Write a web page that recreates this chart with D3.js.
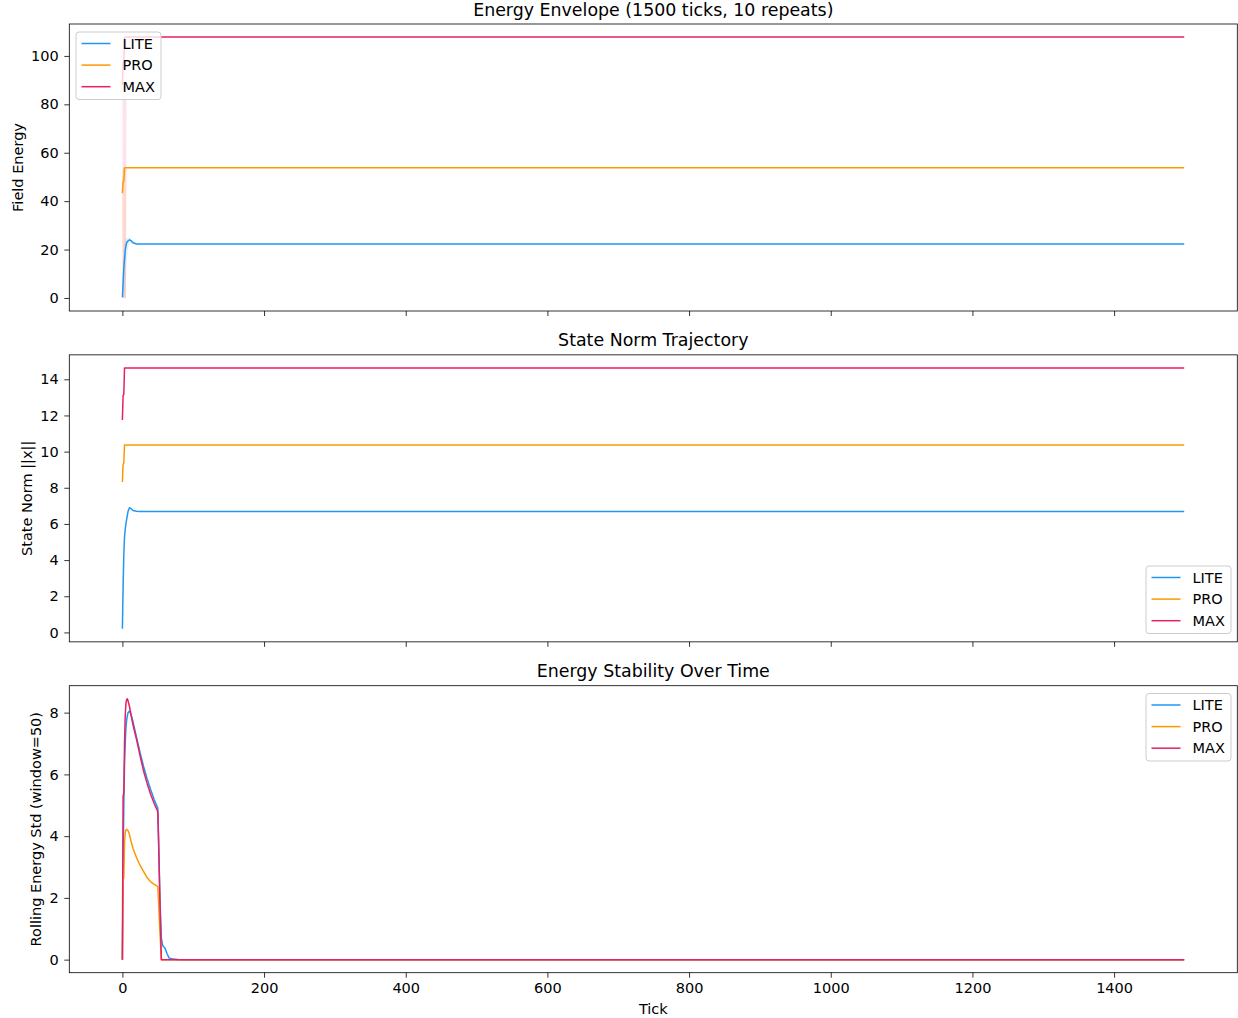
<!DOCTYPE html>
<html>
<head>
<meta charset="utf-8">
<script src="https://cdn.jsdelivr.net/npm/d3@7"></script>
<style>
  html, body { margin: 0; padding: 0; background: #fff; }
  svg { display: block; font-family: "DejaVu Sans", sans-serif; }
</style>
</head>
<body>
<svg id="chart" width="1238" height="1018"></svg>
<script>
// ---------------- DATA ----------------
const seriesNames = ["LITE", "PRO", "MAX"];
const xTickValues = [0, 200, 400, 600, 800, 1000, 1200, 1400];
const totalTicks = 1500;

// Panel 1: Field energy (mean) with min/max envelope
const ticksEnergy = [0, 1, 2, 3, 4, 5, 6, 8, 10, 12, 15, 20, 25, 1499];
const energyLite   = [0.3, 6, 12.5, 16, 19.5, 21.5, 22.8, 23.6, 24.0, 23.7, 22.8, 22.3, 22.3, 22.3];
const energyPro    = [43.3, 48.2, 48.3, 53.6, 53.8, 53.8, 53.8, 53.8, 53.8, 53.8, 53.8, 53.8, 53.8, 53.8];
const energyMax    = [88, 97, 97.5, 107.5, 107.8, 107.8, 107.8, 107.8, 107.8, 107.8, 107.8, 107.8, 107.8, 107.8];
const energyLiteLo = [0, 0, 0, 0, 0, 6, 15, 20.5, 22.5, 22.8, 22.3, 22.2, 22.2, 22.2];
const energyLiteHi = [1.5, 16, 21, 23, 24, 24.6, 24.9, 25, 25, 24.6, 23.4, 22.5, 22.3, 22.3];
const energyProLo  = [0, 0, 0, 0, 0, 0, 53.8, 53.8, 53.8, 53.8, 53.8, 53.8, 53.8, 53.8];
const energyProHi  = [54, 54, 54, 54, 54, 54, 53.8, 53.8, 53.8, 53.8, 53.8, 53.8, 53.8, 53.8];
const energyMaxLo  = [0, 0, 0, 0, 0, 0, 107.8, 107.8, 107.8, 107.8, 107.8, 107.8, 107.8, 107.8];
const energyMaxHi  = [107.8, 107.8, 107.8, 107.8, 107.8, 107.8, 107.8, 107.8, 107.8, 107.8, 107.8, 107.8, 107.8, 107.8];
const energyYTicks = [0, 20, 40, 60, 80, 100];

// Panel 2: state norm
const ticksNorm = [0, 1, 2, 3, 4, 5, 6, 8, 10, 12, 15, 20, 25, 1499];
const normLite = [0.2, 2.5, 4.3, 5.3, 5.7, 6.0, 6.25, 6.7, 6.9, 6.85, 6.74, 6.7, 6.69, 6.69];
const normPro  = [8.32, 9.3, 9.35, 10.37, 10.37, 10.37, 10.37, 10.37, 10.37, 10.37, 10.37, 10.37, 10.37, 10.37];
const normMax  = [11.75, 13.1, 13.17, 14.63, 14.63, 14.63, 14.63, 14.63, 14.63, 14.63, 14.63, 14.63, 14.63, 14.63];
const normYTicks = [0, 2, 4, 6, 8, 10, 12, 14];

// Panel 3: rolling energy std (window=50)
const ticksStd = [0, 1, 2, 3, 4, 5, 6, 7, 8, 10, 12, 15, 20, 25, 30, 35, 40, 45, 50, 51, 52, 53, 55, 57, 60, 63, 66, 70, 80, 1499];
const stdLite = [0, 3.0, 5.0, 6.3, 7.0, 7.5, 7.75, 7.9, 8.0, 8.05, 7.95, 7.7, 7.2, 6.7, 6.25, 5.85, 5.5, 5.18, 4.9, 4.0, 3.0, 2.0, 0.7, 0.45, 0.38, 0.2, 0.05, 0.03, 0, 0];
const stdPro  = [0, 2.6, 2.65, 3.8, 4.1, 4.2, 4.22, 4.2, 4.18, 4.05, 3.85, 3.6, 3.3, 3.05, 2.85, 2.65, 2.52, 2.44, 2.37, 1.9, 1.4, 0.9, 0, 0, 0, 0, 0, 0, 0, 0];
const stdMax  = [0, 5.3, 5.4, 7.0, 7.9, 8.3, 8.42, 8.45, 8.38, 8.2, 7.95, 7.6, 7.13, 6.6, 6.1, 5.7, 5.35, 5.05, 4.8, 3.9, 2.9, 1.9, 0, 0, 0, 0, 0, 0, 0, 0];
const stdYTicks = [0, 2, 4, 6, 8];

const colors = { LITE: "#2196F3", PRO: "#FF9800", MAX: "#E91E63" };

// ---------------- LAYOUT ----------------
const svg = d3.select("#chart");
const axLeft = 69.3, axRight = 1237.3, axH = 287;
const panelTops = [24, 354.85, 685.7];
const FS = 14.5, TITLE_FS = 17.4, TICK_LEN = 5, TICK_PAD = 5.5;

const xPad = (totalTicks - 1) * 0.05;
const x = d3.scaleLinear().domain([-xPad, totalTicks - 1 + xPad]).range([axLeft, axRight]);

function zip(ts, vs) { return ts.map((t, i) => ({ t, v: vs[i] })); }

function drawPanel(cfg) {
  const top = cfg.top, bottom = top + axH;
  const allVals = cfg.extentVals.flat();
  const lo = d3.min(allVals), hi = d3.max(allVals);
  const pad = (hi - lo) * 0.05;
  const y = d3.scaleLinear().domain([lo - pad, hi + pad]).range([bottom, top]);
  const g = svg.append("g");

  const clipId = "clip" + cfg.idx;
  svg.append("clipPath").attr("id", clipId).append("rect")
    .attr("x", axLeft).attr("y", top).attr("width", axRight - axLeft).attr("height", axH);
  const plot = g.append("g").attr("clip-path", `url(#${clipId})`);

  // bands
  (cfg.bands || []).forEach(b => {
    const area = d3.area().x(d => x(d.t)).y0(d => y(d.lo)).y1(d => y(d.hi));
    const data = b.ticks.map((t, i) => ({ t, lo: b.lo[i], hi: b.hi[i] }));
    plot.append("path").attr("d", area(data))
      .attr("fill", colors[b.name]).attr("fill-opacity", 0.12).attr("stroke", "none");
  });

  const line = d3.line().x(d => x(d.t)).y(d => y(d.v));
  cfg.series.forEach(s => {
    plot.append("path").attr("d", line(zip(s.ticks, s.values)))
      .attr("fill", "none").attr("stroke", colors[s.name])
      .attr("stroke-width", 1.5).attr("stroke-linejoin", "round");
  });

  // axes
  const yAxis = d3.axisLeft(y).tickValues(cfg.yTicks).tickSize(TICK_LEN).tickPadding(TICK_PAD).tickFormat(d3.format("d"));
  const ya = g.append("g").attr("transform", `translate(${axLeft},0)`).call(yAxis);
  const xAxis = d3.axisBottom(x).tickValues(xTickValues).tickSize(TICK_LEN).tickPadding(TICK_PAD)
    .tickFormat(cfg.showX ? d3.format("d") : () => "");
  const xa = g.append("g").attr("transform", `translate(0,${bottom})`).call(xAxis);
  [ya, xa].forEach(a => {
    a.select(".domain").remove();
    a.selectAll(".tick line").attr("stroke", "#000").attr("stroke-width", 0.8);
    a.selectAll(".tick text").attr("fill", "#000").style("font-size", FS + "px")
      .style("font-family", "DejaVu Sans, sans-serif");
  });

  // frame
  g.append("rect").attr("x", axLeft).attr("y", top).attr("width", axRight - axLeft).attr("height", axH)
    .attr("fill", "none").attr("stroke", "#000").attr("stroke-width", 0.8);

  // title
  g.append("text").attr("x", (axLeft + axRight) / 2).attr("y", top - 8.5)
    .attr("text-anchor", "middle").style("font-size", TITLE_FS + "px").text(cfg.title);

  // y label
  g.append("text")
    .attr("transform", `translate(${cfg.ylabelX},${(top + bottom) / 2}) rotate(-90)`)
    .attr("text-anchor", "middle").attr("dy", "0.35em")
    .style("font-size", FS + "px").text(cfg.ylabel);

  // legend
  const L = cfg.legend;
  const lg = g.append("g").attr("transform", `translate(${L.x},${L.y})`);
  lg.append("rect").attr("width", 85).attr("height", 67.5).attr("rx", 3)
    .attr("fill", "#fff").attr("fill-opacity", 0.8).attr("stroke", "#cccccc").attr("stroke-width", 1);
  seriesNames.forEach((n, i) => {
    const cy = 11.5 + i * 21.6;
    lg.append("line").attr("x1", 5.5).attr("x2", 34.5).attr("y1", cy).attr("y2", cy)
      .attr("stroke", colors[n]).attr("stroke-width", 1.5);
    lg.append("text").attr("x", 46.5).attr("y", cy).attr("dy", "0.36em")
      .style("font-size", FS + "px").text(n);
  });
  return y;
}

drawPanel({
  idx: 1, top: panelTops[0], title: "Energy Envelope (1500 ticks, 10 repeats)",
  ylabel: "Field Energy", ylabelX: 18, yTicks: energyYTicks, showX: false,
  extentVals: [energyLite, energyPro, energyMax, energyLiteLo, energyLiteHi, energyProLo, energyProHi, energyMaxLo, energyMaxHi],
  bands: [
    { name: "LITE", ticks: ticksEnergy, lo: energyLiteLo, hi: energyLiteHi },
    { name: "PRO", ticks: ticksEnergy, lo: energyProLo, hi: energyProHi },
    { name: "MAX", ticks: ticksEnergy, lo: energyMaxLo, hi: energyMaxHi }
  ],
  series: [
    { name: "LITE", ticks: ticksEnergy, values: energyLite },
    { name: "PRO", ticks: ticksEnergy, values: energyPro },
    { name: "MAX", ticks: ticksEnergy, values: energyMax }
  ],
  legend: { x: 76, y: 32 }
});

drawPanel({
  idx: 2, top: panelTops[1], title: "State Norm Trajectory",
  ylabel: "State Norm ||x||", ylabelX: 27, yTicks: normYTicks, showX: false,
  extentVals: [normLite, normPro, normMax],
  series: [
    { name: "LITE", ticks: ticksNorm, values: normLite },
    { name: "PRO", ticks: ticksNorm, values: normPro },
    { name: "MAX", ticks: ticksNorm, values: normMax }
  ],
  legend: { x: 1146, y: 566 }
});

drawPanel({
  idx: 3, top: panelTops[2], title: "Energy Stability Over Time",
  ylabel: "Rolling Energy Std (window=50)", ylabelX: 36, yTicks: stdYTicks, showX: true,
  extentVals: [stdLite, stdPro, stdMax],
  series: [
    { name: "LITE", ticks: ticksStd, values: stdLite },
    { name: "PRO", ticks: ticksStd, values: stdPro },
    { name: "MAX", ticks: ticksStd, values: stdMax }
  ],
  legend: { x: 1146, y: 693.5 }
});

svg.append("text").attr("x", (axLeft + axRight) / 2).attr("y", 1014)
  .attr("text-anchor", "middle").style("font-size", FS + "px").text("Tick");
</script>
</body>
</html>
